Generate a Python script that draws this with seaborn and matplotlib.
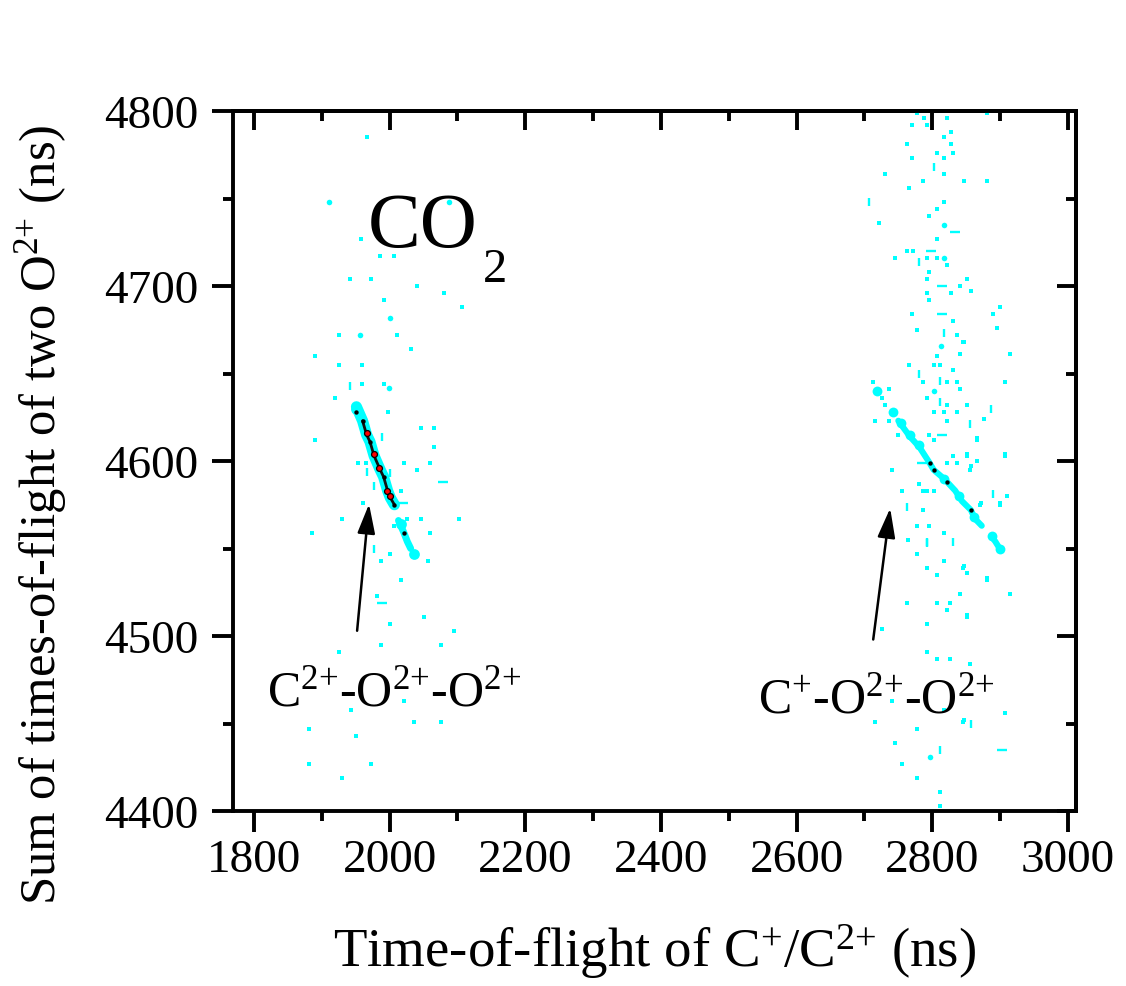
import numpy as np
import pandas as pd
import matplotlib
matplotlib.use("Agg")
import matplotlib.pyplot as plt
import seaborn as sns
from matplotlib.ticker import MultipleLocator

# ---------------- data ----------------
# left streak (C2+ - O2+ - O2+), wide part and narrow tail
left_wide_x = [1951, 1960, 1966, 1971, 1977, 1986, 1991, 1997, 2001, 2007]
left_wide_y = [4631, 4623, 4615, 4611, 4603, 4595, 4591, 4583, 4579, 4575]
left_core_x = [1960, 1966, 1971, 1977, 1986, 1991, 1997, 2001, 2007]
left_core_y = [4623, 4615, 4611, 4603, 4595, 4591, 4583, 4579, 4575]
left_tail_x = [2013, 2021, 2026, 2031]
left_tail_y = [4566, 4559, 4554, 4550]
left_blob_x = [1951, 2036, 2017]
left_blob_y = [4630, 4547, 4564]

# right streak (C+ - O2+ - O2+)
right_line_x = [2750, 2767, 2781, 2796, 2802, 2817, 2822, 2834, 2844, 2857, 2863, 2873]
right_line_y = [4623, 4614, 4608, 4599, 4595, 4590, 4588, 4583, 4577, 4572, 4567, 4563]
right_tail_x = [2887, 2893, 2901]
right_tail_y = [4557, 4554, 4549]
right_blob_x = [2718, 2742, 2754, 2767, 2781, 2817, 2840, 2862, 2888, 2900]
right_blob_y = [4640, 4628, 4622, 4615, 4609, 4590, 4580, 4568, 4557, 4550]

# intensity peaks: 1 = black level, 2 = red level
peak_x = [1950, 1960, 1966, 1971, 1977, 1984, 1991, 1996, 2001, 2007, 2021,
          2796, 2802, 2822, 2857]
peak_y = [4628, 4623, 4616, 4611, 4604, 4596, 4591, 4583, 4580, 4575, 4559,
          4599, 4595, 4588, 4572]
peak_level = [1, 1, 2, 1, 2, 2, 1, 2, 2, 1, 1,
              1, 1, 1, 1]

# isolated single-bin counts
dot_x = [1967, 1957, 1986, 2006, 1942, 1972, 2041, 2080, 1992, 2107, 1925, 2011,
         2031, 1890, 1925, 1959, 1959, 1992, 1920, 1997, 2046, 2065, 1890, 2065,
         2021, 2040, 2060, 1953, 1965, 2016, 1960, 1930, 2026, 2046, 2102, 1886,
         2006, 2060, 2001, 1987, 2056, 2016, 1982, 2051, 2001, 2095, 1987, 2075,
         1925, 1943, 2021, 2036, 2075, 1881, 1950, 1881, 1972, 1930,
         2777, 2881, 2788, 2822, 2770, 2792, 2827, 2818, 2763, 2827, 2807, 2831,
         2770, 2817, 2731, 2817, 2787, 2847, 2881, 2766, 2818, 2807, 2795, 2722,
         2807, 2763, 2771, 2745, 2792, 2807, 2822, 2795, 2792, 2852, 2841, 2792,
         2827, 2857, 2795, 2900, 2770, 2890, 2831, 2777, 2895, 2836, 2846, 2807,
         2841, 2915, 2766, 2803, 2812, 2831, 2712, 2787, 2822, 2836, 2908, 2736,
         2726, 2792, 2731, 2822, 2851, 2716, 2736, 2822, 2876, 2803, 2818, 2836,
         2750, 2795, 2847, 2841, 2866, 2851, 2866, 2908, 2857, 2872, 2900, 2910,
         2847, 2851, 2881, 2841, 2915, 2851, 2847, 2908, 2741, 2756, 2765, 2778,
         2778, 2793, 2780, 2787, 2787, 2795, 2802, 2822, 2836, 2831, 2851, 2856,
         2866, 2908, 2871, 2793, 2803, 2777, 2817, 2777, 2817, 2846, 2807, 2881,
         2763, 2807, 2826, 2822, 2851, 2792, 2726, 2792, 2807, 2826, 2856, 2741,
         2817, 2716, 2777, 2846, 2745, 2755, 2777, 2812, 2812, 2900]
dot_y = [4785, 4727, 4717, 4717, 4704, 4704, 4700, 4696, 4692, 4688, 4672, 4672,
         4664, 4660, 4655, 4655, 4644, 4644, 4636, 4628, 4619, 4619, 4612, 4608,
         4599, 4595, 4599, 4599, 4599, 4583, 4576, 4567, 4567, 4567, 4567, 4559,
         4563, 4559, 4547, 4543, 4543, 4532, 4523, 4511, 4507, 4503, 4495, 4495,
         4491, 4458, 4463, 4451, 4451, 4447, 4443, 4427, 4427, 4419,
         4799, 4799, 4796, 4796, 4792, 4792, 4788, 4785, 4781, 4781, 4776, 4776,
         4773, 4773, 4764, 4764, 4760, 4760, 4760, 4756, 4748, 4744, 4740, 4736,
         4727, 4720, 4720, 4716, 4716, 4716, 4712, 4708, 4704, 4704, 4700, 4696,
         4696, 4697, 4692, 4688, 4684, 4684, 4680, 4675, 4676, 4672, 4668, 4660,
         4661, 4661, 4655, 4655, 4655, 4652, 4645, 4645, 4645, 4645, 4645, 4641,
         4636, 4636, 4632, 4632, 4632, 4623, 4623, 4623, 4624, 4628, 4628, 4628,
         4615, 4615, 4668, 4641, 4613, 4604, 4600, 4604, 4597, 4576, 4576, 4580,
         4540, 4536, 4533, 4524, 4524, 4512, 4452, 4456, 4595, 4583, 4555, 4563,
         4547, 4539, 4587, 4583, 4572, 4563, 4612, 4599, 4599, 4603, 4603, 4595,
         4612, 4603, 4575, 4583, 4583, 4563, 4559, 4547, 4543, 4539, 4535, 4532,
         4519, 4519, 4519, 4515, 4511, 4507, 4504, 4491, 4487, 4487, 4484, 4463,
         4458, 4451, 4447, 4451, 4439, 4427, 4419, 4411, 4403, 4575]

# short clusters elongated along the y axis
vdash_x = [1941, 1988, 1967, 2000, 1977, 1977,
           2803, 2707, 2780, 2817, 2780, 2812, 2812, 2886, 2856, 2763,
           2793, 2890, 2831, 2792, 2857, 2812]
vdash_y = [4643, 4614, 4594, 4593, 4586, 4550,
           4768, 4748, 4714, 4673, 4650, 4646, 4634, 4630, 4621, 4574,
           4553, 4581, 4554, 4554, 4450, 4435]

# short clusters elongated along the x axis
hdash_x = [2078, 2020, 1989, 2834, 2798, 2815, 2814, 2815, 2785, 2903]
hdash_y = [4588, 4576, 4519, 4731, 4720, 4700, 4684, 4615, 4599, 4435]

# small multi-bin blobs
blob_x = [1911, 2088, 1956, 1999, 2000, 2818, 2817, 2813, 2802, 2797]
blob_y = [4748, 4748, 4672, 4642, 4682, 4735, 4716, 4666, 4640, 4431]

# axis settings / labels
x_range = (1769, 3012)
y_range = (4400, 4800)
x_label = "Time-of-flight of C$^{{+}}$/C$^{2{+}}$ (ns)"
y_label = "Sum of times-of-flight of two O$^{2{+}}$ (ns)"
molecule = "CO"
molecule_sub = "2"
label_left = "C$^{2{+}}$-O$^{2{+}}$-O$^{2{+}}$"
label_right = "C$^{{+}}$-O$^{2{+}}$-O$^{2{+}}$"

# ---------------- figure ----------------
sns.set_theme(style="ticks")
plt.rcParams["font.family"] = ["Liberation Serif", "DejaVu Serif"]
plt.rcParams["mathtext.fontset"] = "custom"
plt.rcParams["mathtext.rm"] = "Liberation Serif"
plt.rcParams["mathtext.it"] = "Liberation Serif:italic"
plt.rcParams["mathtext.bf"] = "Liberation Serif:bold"
for k in ["text.color", "axes.labelcolor", "xtick.color", "ytick.color",
          "axes.edgecolor"]:
    plt.rcParams[k] = "black"

CYAN = "#00FFFF"
W, H = 1126, 987
fig = plt.figure(figsize=(W / 100, H / 100), dpi=100)
fig.patch.set_facecolor("white")
ax = fig.add_axes([233 / W, 175 / H, 843 / W, 700 / H])
ax.set_facecolor("white")

df_dot = pd.DataFrame({"x": dot_x, "y": dot_y})
df_v = pd.DataFrame({"x": vdash_x, "y": vdash_y})
df_h = pd.DataFrame({"x": hdash_x, "y": hdash_y})
df_b = pd.DataFrame({"x": blob_x, "y": blob_y})

sns.scatterplot(data=df_dot, x="x", y="y", ax=ax, marker="s", s=5,
                color=CYAN, linewidth=0, legend=False, zorder=2)
sns.scatterplot(data=df_v, x="x", y="y", ax=ax, marker="|", s=40,
                color=CYAN, linewidths=1.7, legend=False, zorder=2)
sns.scatterplot(data=df_h, x="x", y="y", ax=ax, marker="_", s=50,
                color=CYAN, linewidths=1.7, legend=False, zorder=2)
sns.scatterplot(data=df_b, x="x", y="y", ax=ax, marker="o", s=16,
                color=CYAN, linewidth=0, legend=False, zorder=2)

# streaks
for xs, ys, lw in [(left_wide_x, left_wide_y, 8.0),
                   (left_tail_x, left_tail_y, 5.0),
                   (right_line_x, right_line_y, 4.4),
                   (right_tail_x, right_tail_y, 4.4)]:
    sns.lineplot(x=xs, y=ys, ax=ax, sort=False, color=CYAN, linewidth=lw,
                 solid_capstyle="round", estimator=None, legend=False, zorder=3)
sns.scatterplot(x=left_blob_x, y=left_blob_y, ax=ax, marker="o", s=60,
                color=CYAN, linewidth=0, legend=False, zorder=3)
sns.scatterplot(x=right_blob_x, y=right_blob_y, ax=ax, marker="o", s=50,
                color=CYAN, linewidth=0, legend=False, zorder=3)
sns.lineplot(x=left_core_x, y=left_core_y, ax=ax, sort=False, color="#101010",
             linewidth=2.0, estimator=None, legend=False, zorder=4)

df_p = pd.DataFrame({"x": peak_x, "y": peak_y, "lev": peak_level})
sns.scatterplot(data=df_p[df_p.lev == 1], x="x", y="y", ax=ax, marker="o",
                s=10, color="black", linewidth=0, legend=False, zorder=4)
sns.scatterplot(data=df_p[df_p.lev == 2], x="x", y="y", ax=ax, marker="o",
                s=18, color="red", edgecolor="black", linewidth=0.9,
                legend=False, zorder=5)

ax.set_xlim(*x_range)
ax.set_ylim(*y_range)

# ticks: outward on left/bottom, inward on top/right
lw_sp = 2.8
for sp in ax.spines.values():
    sp.set_linewidth(lw_sp)
    sp.set_visible(True)
    sp.set_color("black")
ax.xaxis.set_major_locator(MultipleLocator(200))
ax.xaxis.set_minor_locator(MultipleLocator(100))
ax.yaxis.set_major_locator(MultipleLocator(100))
ax.yaxis.set_minor_locator(MultipleLocator(50))
ax.tick_params(which="both", direction="out", width=lw_sp, color="black",
               top=False, right=False, labelsize=34, labelcolor="black")
ax.tick_params(which="major", length=15)
ax.tick_params(which="minor", length=7.5)
ax.tick_params(axis="x", which="major", pad=5)
ax.tick_params(axis="y", which="major", pad=10)

secx = ax.secondary_xaxis("top")
secx.xaxis.set_major_locator(MultipleLocator(200))
secx.xaxis.set_minor_locator(MultipleLocator(100))
secx.tick_params(which="both", direction="in", width=lw_sp, labeltop=False,
                 color="black")
secx.tick_params(which="major", length=14)
secx.tick_params(which="minor", length=7)
secx.spines["top"].set_linewidth(lw_sp)

secy = ax.secondary_yaxis("right")
secy.yaxis.set_major_locator(MultipleLocator(100))
secy.yaxis.set_minor_locator(MultipleLocator(50))
secy.tick_params(which="both", direction="in", width=lw_sp, labelright=False,
                 color="black")
secy.tick_params(which="major", length=14)
secy.tick_params(which="minor", length=7)
secy.spines["right"].set_linewidth(lw_sp)

ax.set_xlabel(x_label, fontsize=39.5, color="black")
ax.set_ylabel(y_label, fontsize=36.5, color="black")
ax.xaxis.set_label_coords(0.5, -0.158)
ax.yaxis.set_label_coords(-0.195, 0.424)

# texts
ax.text(1968, 4723, molecule, fontsize=57, ha="left", va="baseline", zorder=6)
ax.text(2138, 4703, molecule_sub, fontsize=35, ha="left", va="baseline", zorder=6)
ax.text(1819, 4461, label_left, fontsize=36, ha="left", va="baseline", zorder=6)
ax.text(2543, 4457, label_right, fontsize=36, ha="left", va="baseline", zorder=6)

arrow_kw = dict(arrowstyle="-|>,head_length=0.9,head_width=0.27",
                lw=1.8, color="black", mutation_scale=20,
                shrinkA=0, shrinkB=0)
ax.annotate("", xy=(1969.6, 4575.4), xytext=(1952, 4503), arrowprops=arrow_kw, zorder=6)
ax.annotate("", xy=(2738, 4573), xytext=(2713, 4498), arrowprops=arrow_kw, zorder=6)

fig.savefig("out.png", dpi=100, facecolor="white")
